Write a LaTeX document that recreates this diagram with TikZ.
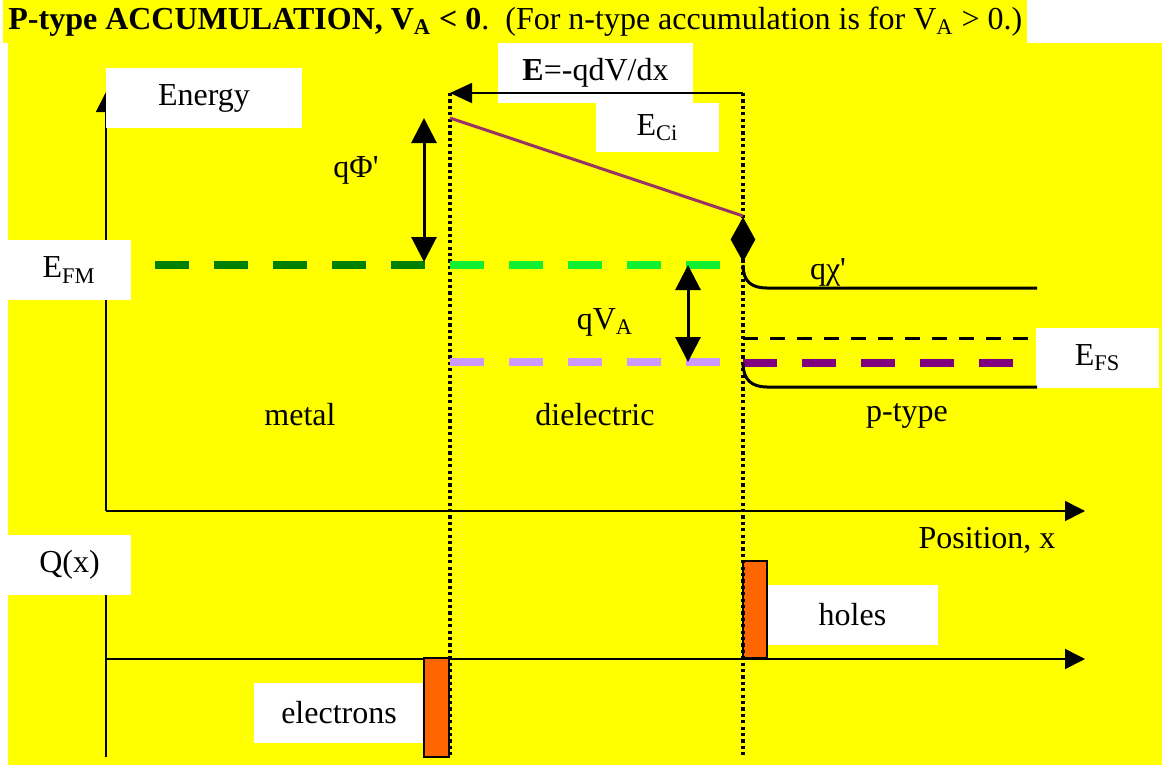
\documentclass[tikz,border=0pt]{standalone}
\usepackage{fontspec}
\setmainfont{Liberation Serif}
\usetikzlibrary{arrows.meta, shapes.geometric, positioning}
\definecolor{bgyellow}{HTML}{FFFF00}
\definecolor{chargeorange}{HTML}{FF6600}
\definecolor{metalgreen}{HTML}{008000}
\definecolor{oxgreen}{HTML}{10F030}
\definecolor{oxlilac}{HTML}{CC99FF}
\definecolor{fspurple}{HTML}{800080}
\definecolor{ciplum}{HTML}{993366}

\begin{document}
\begin{tikzpicture}[
    x=0.5pt, y=-0.5pt,
    font=\fontsize{16}{19}\selectfont,
    box/.style={rectangle, fill=white, inner sep=0pt, minimum width=#1, minimum height=30pt},
    txt/.style={inner sep=0pt},
    axis/.style={-{Triangle[length=10pt, width=10pt]}, line width=0.8pt},
    dbl/.style={{Triangle[length=12.5pt, width=12.5pt]}-{Triangle[length=12.5pt, width=12.5pt]}, line width=1.5pt},
    level/.style={line width=4pt, dash pattern=on 17pt off 12.5pt, draw=#1},
    band/.style={line width=1.5pt},
    iface/.style={line width=1.6pt, dash pattern=on 1.6pt off 1.6pt},
    charge/.style={fill=chargeorange, draw=black, line width=0.8pt}
]
\useasboundingbox (0,0) rectangle (1162,771);
\fill[white] (0,0) rectangle (1162,771);
\fill[bgyellow] (8,43) rectangle (1162,765);

% Title
\node[anchor=west, fill=bgyellow, inner xsep=2.5pt, inner ysep=0pt, minimum height=21.5pt] (title) at (3,21.5)
    {\textbf{P-type ACCUMULATION, V\textsubscript{A} < 0}.\ \ (For n-type accumulation is for V\textsubscript{A} > 0.)};

% Axes
\coordinate (O) at (106,511);
\coordinate (Etop) at (106,92);
\coordinate (Xend) at (1085,511);
\coordinate (Q0) at (106,659);
\coordinate (Qbot) at (106,757);
\coordinate (Qend) at (1085,659);
\draw[axis] (O) -- (Etop);
\draw[axis] (O) -- (Xend);
\draw[line width=0.8pt] (Qbot) -- (106,590);
\draw[axis] (Q0) -- (Qend);

% Boxes
\node[box=98pt] (energy) at (204,98) {Energy};
\node[box=97.5pt] (field) at (595.5,73) {\textbf{E}=-qdV/dx};
\node[box=61.5pt, minimum height=24.5pt] (eci) at (657.5,127.5) {E\textsubscript{Ci}};
\node[box=62pt] (efm) at (69,270) {E\textsubscript{FM}};
\node[box=61.5pt] (efs) at (1097.5,358) {E\textsubscript{FS}};
\node[box=61.5pt] (qx) at (69.5,565) {Q(x)};
\node[box=85.5pt] (holes) at (852.5,615) {holes};
\node[box=85pt] (electrons) at (339,713) {electrons};

% Labels
\node[txt] (phi) at (356,170) {qΦ\textquotesingle};
\node[txt] (chi) at (828,272) {qχ\textquotesingle};
\node[txt] (va) at (605,322) {qV\textsubscript{A}};
\node[txt] (metal) at (300,415) {metal};
\node[txt] (diel) at (595,415) {dielectric};
\node[txt] (ptype) at (907,416) {p-type};
\node[txt] (pos) at (987,540) {Position, x};

% Charges
\draw[charge] (424,658) rectangle (449,757);
\draw[charge] (743,561) rectangle (767,658);

% Interfaces
\coordinate (ifLt) at (450,93);
\coordinate (ifLb) at (450,757);
\coordinate (ifRt) at (743,93);
\coordinate (ifRb) at (743,757);
\draw[iface] (ifLt) -- (ifLb);
\draw[iface] (ifRt) -- (ifRb);
\draw[-{Triangle[length=11pt, width=10pt]}, line width=0.8pt] (ifRt) -- (ifLt);

% Levels
\draw[level=metalgreen] (155,265) -- (427,265);
\draw[level=oxgreen] (450,265) -- (720,265);
\draw[level=oxlilac] (450,362) -- (720,362);
\draw[level=fspurple] (743,363) -- (1015,363);
\draw[line width=1.5pt, dash pattern=on 7.5pt off 6pt] (743,338) -- (1037,338);

% Bands
\draw[ciplum, line width=1.5pt] (450,118) -- (743,216);
\draw[band] (743,265) .. controls (743,282) and (752,288) .. (767,288) -- (1037,288);
\draw[band] (743,363) .. controls (743,380) and (752,387) .. (767,387) -- (1037,387);
\node[diamond, fill=black, inner sep=0pt, minimum width=12.5pt, minimum height=22.5pt] (gap) at (743,239.5) {};

% Arrows
\draw[dbl] (424,118) -- (424,262);
\draw[dbl] (688,265) -- (688,362);
\end{tikzpicture}
\end{document}
